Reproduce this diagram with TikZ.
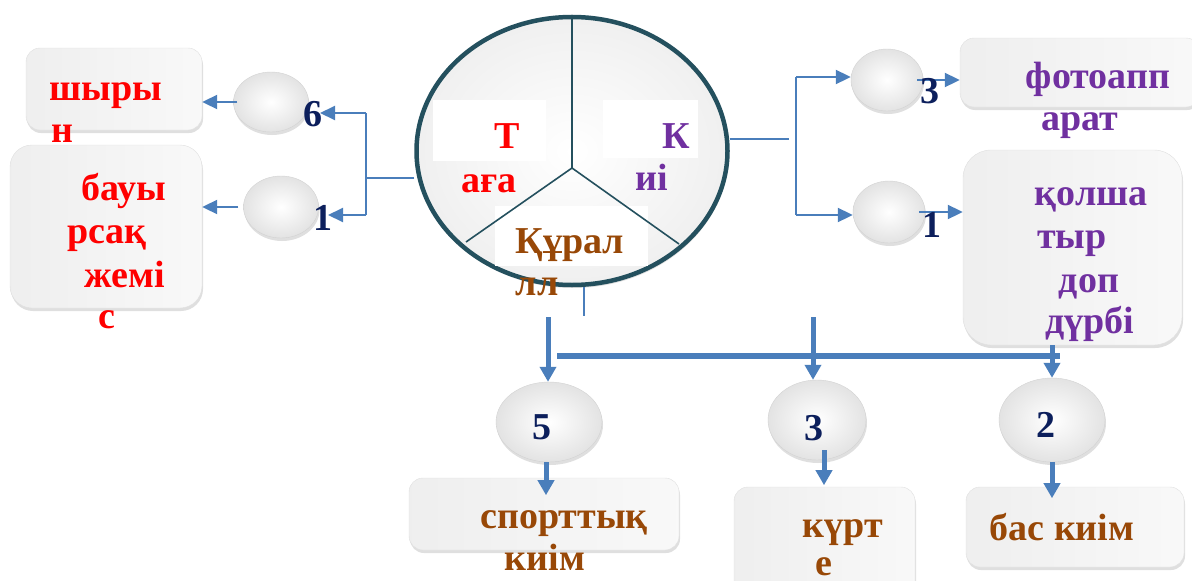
\documentclass[tikz,border=0pt]{standalone}
\usepackage{fontspec}
\setmainfont{Liberation Serif}
\usepackage{tikz}
\usetikzlibrary{shapes.geometric,arrows.meta,shadows}
\definecolor{arrblue}{HTML}{4A7EBB}
\definecolor{rimteal}{HTML}{24505E}
\definecolor{numnavy}{HTML}{0C1F5C}
\definecolor{tred}{HTML}{FF0000}
\definecolor{tpurple}{HTML}{7030A0}
\definecolor{tbrown}{HTML}{984807}

\begin{document}
\begin{tikzpicture}[x=1pt,y=-1pt,
  box/.style={rectangle,rounded corners=14pt,draw=gray!25,left color=gray!13,middle color=white,right color=gray!5,inner sep=0pt,drop shadow={opacity=0.25,shadow xshift=1pt,shadow yshift=-3pt}},
  oval/.style={ellipse,draw=gray!35,inner color=white,outer color=gray!22,inner sep=0pt,drop shadow={opacity=0.25,shadow xshift=1pt,shadow yshift=-3pt}},
  link/.style={draw=arrblue,line width=2pt},
  arr/.style={link,-{Triangle[length=15pt,width=14pt]}},
  bigarr/.style={draw=arrblue,line width=5pt,-{Triangle[length=15pt,width=16pt]}},
  lbl/.style={anchor=base,inner sep=0pt,font=\fontsize{38}{42}\selectfont\bfseries},
  num/.style={lbl,text=numnavy}]
\useasboundingbox (0,0) rectangle (1192,581);
\node[box,minimum width=176pt,minimum height=82pt] (Shyryn) at (114,89) {};
\node[box,rounded corners=22pt,minimum width=192pt,minimum height=163pt] (Bauyrsak) at (106,226.5) {};
\node[box,minimum width=240pt,minimum height=69pt] (Foto) at (1080,72.5) {};
\node[box,rounded corners=28pt,minimum width=219pt,minimum height=195pt] (Durbi) at (1072.5,247.5) {};
\node[box,minimum width=270pt,minimum height=72pt] (Sport) at (544,514) {};
\node[box,minimum width=181pt,minimum height=113pt] (Kurte) at (824.5,543.5) {};
\node[box,minimum width=218pt,minimum height=80pt] (Bas) at (1075,527) {};
\node[oval,minimum width=75pt,minimum height=60pt] (CntShyryn) at (271,102) {};
\node[oval,minimum width=75pt,minimum height=62pt] (CntBauyrsak) at (281,207) {};
\node[oval,minimum width=72pt,minimum height=62pt] (CntFoto) at (887,80) {};
\node[oval,minimum width=72pt,minimum height=62pt] (CntDurbi) at (889,212) {};
\node[oval,minimum width=106pt,minimum height=80pt] (CntSport) at (549,422) {};
\node[oval,minimum width=98pt,minimum height=80pt] (CntKurte) at (817,420) {};
\node[oval,minimum width=106pt,minimum height=84pt] (CntBas) at (1052,420) {};
\node[ellipse,draw=rimteal,line width=4.5pt,inner color=white,outer color=gray!12,inner sep=0pt,minimum width=311pt,minimum height=268pt,drop shadow={opacity=0.25,shadow xshift=1pt,shadow yshift=-3pt}] (Main) at (572,151) {};
\node[fill=white,inner sep=0pt,minimum width=113pt,minimum height=61pt] (SecT) at (489.5,130.5) {};
\node[fill=white,inner sep=0pt,minimum width=95pt,minimum height=58pt] (SecK) at (650.5,129) {};
\node[fill=white,inner sep=0pt,minimum width=153pt,minimum height=60pt] (SecQ) at (571.5,236) {};
\coordinate (Hub) at (572,168);
\coordinate (HubL) at (466,242);
\coordinate (HubR) at (679,244);
\draw[rimteal,line width=1.6pt] (Main.north) -- (Hub) -- (HubL);
\draw[rimteal,line width=1.6pt] (Hub) -- (HubR);
\coordinate (LMid) at (366,178);
\coordinate (LTop) at (366,113);
\coordinate (LBot) at (366,215);
\coordinate (LTopEnd) at (320,113);
\coordinate (LBotEnd) at (328,215);
\draw[link] (Main.west |- LMid) -- (LMid);
\draw[link] (LTop) -- (LBot);
\draw[arr] (LTop) -- (LTopEnd);
\draw[arr] (LBot) -- (LBotEnd);
\draw[arr] ([xshift=4pt]CntShyryn.west) -- (CntShyryn.west -| Shyryn.east);
\draw[arr] ([xshift=-5pt]CntBauyrsak.west) -- (CntBauyrsak.west -| Bauyrsak.east);
\coordinate (RMid) at (789,139);
\coordinate (RTop) at (796,77);
\coordinate (RBot) at (796,215);
\draw[link] (Main.east |- RMid) -- (RMid);
\draw[link] (RTop) -- (RBot);
\draw[arr] (RTop) -- (RTop -| CntFoto.west);
\draw[arr] (RBot) -- (RBot -| CntDurbi.west);
\draw[arr] ([xshift=-6pt]CntFoto.east) -- (CntFoto.east -| Foto.west);
\draw[arr] ([xshift=-6pt]CntDurbi.east) -- (CntDurbi.east -| Durbi.west);
\coordinate (MBot) at (584,287);
\coordinate (MBotEnd) at (584,316);
\draw[link] (MBot) -- (MBotEnd);
\coordinate (DropA) at (548,317);
\coordinate (DropB) at (813,317);
\coordinate (BarL) at (557,356);
\coordinate (BarR) at (1060,356);
\draw[draw=arrblue,line width=6pt] (BarL) -- (BarR);
\draw[bigarr] (DropA) -- (DropA |- CntSport.north);
\draw[bigarr] (DropB) -- (DropB |- CntKurte.north);
\draw[bigarr] (Durbi.south -| CntBas.north) -- (CntBas.north);
\draw[bigarr] ([xshift=-3pt]CntSport.south) -- ++(0,33);
\draw[bigarr] ([xshift=7pt,yshift=10pt]CntKurte.south) -- ++(0,35);
\draw[bigarr] (CntBas.south) -- ++(0,36);
\node[lbl,text=tred] (TxtT1) at (507,148) {Т};
\node[lbl,text=tred] (TxtT2) at (489,192) {аға};
\node[lbl,text=tpurple] (TxtK1) at (676,148) {К};
\node[lbl,text=tpurple] (TxtK2) at (652,190) {иі};
\node[lbl,text=tbrown] (TxtQ1) at (570,253) {Құрал};
\node[lbl,text=tbrown] (TxtQ2) at (537,295) {лл};
\node[lbl,text=tred] (TxtSh1) at (106,100) {шыры};
\node[lbl,text=tred] (TxtSh2) at (62,142) {н};
\node[lbl,text=tred] (TxtB1) at (124,200) {бауы};
\node[lbl,text=tred] (TxtB2) at (107,243) {рсақ};
\node[lbl,text=tred] (TxtB3) at (125,287) {жемі};
\node[lbl,text=tred] (TxtB4) at (107,328) {с};
\node[lbl,text=tpurple] (TxtF1) at (1098,88) {фотоапп};
\node[lbl,text=tpurple] (TxtF2) at (1080,130) {арат};
\node[lbl,text=tpurple] (TxtD1) at (1091,205) {қолша};
\node[lbl,text=tpurple] (TxtD2) at (1072,248) {тыр};
\node[lbl,text=tpurple] (TxtD3) at (1089,292) {доп};
\node[lbl,text=tpurple] (TxtD4) at (1090,333) {дүрбі};
\node[lbl,text=tbrown] (TxtS1) at (564,528) {спорттық};
\node[lbl,text=tbrown] (TxtS2) at (545,570) {киім};
\node[lbl,text=tbrown] (TxtKu1) at (843,537) {күрт};
\node[lbl,text=tbrown] (TxtKu2) at (824,575) {е};
\node[lbl,text=tbrown] (TxtBas) at (1062,540) {бас киім};
\node[num] (Num6) at (313,126) {6};
\node[num] (Num1L) at (323,230) {1};
\node[num] (Num3R) at (930,103) {3};
\node[num] (Num1R) at (932,237) {1};
\node[num] (Num5) at (542,439) {5};
\node[num] (Num3B) at (814,440) {3};
\node[num] (Num2) at (1046,437) {2};
\end{tikzpicture}
\end{document}
